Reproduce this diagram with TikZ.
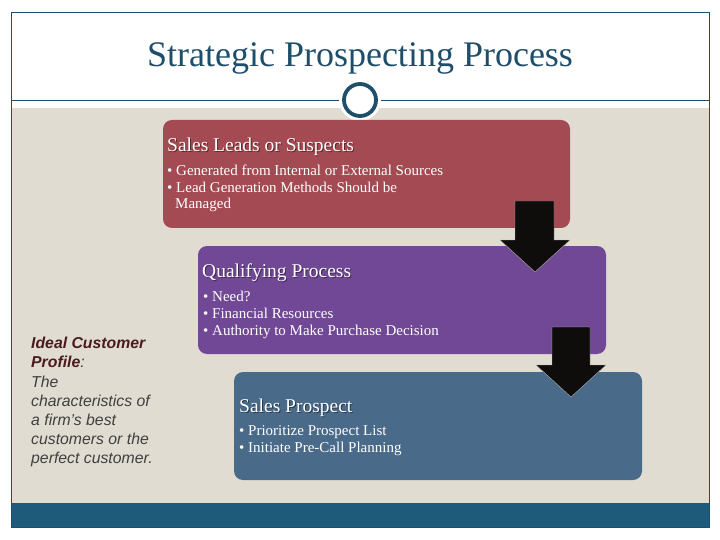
\documentclass[tikz,border=0pt]{standalone}
\usepackage{fontspec}
\setmainfont{Liberation Serif}
\newfontfamily\armain{Liberation Sans}
\definecolor{teal1}{HTML}{1F4E6A}
\definecolor{beige}{HTML}{E1DCD2}
\definecolor{band}{HTML}{1E5A7A}
\definecolor{redbox}{HTML}{A34A52}
\definecolor{purbox}{HTML}{714895}
\definecolor{bluebox}{HTML}{4A6A89}
\definecolor{arrowc}{HTML}{0F0C0C}
\definecolor{maroon1}{HTML}{4A1A1F}
\definecolor{greytext}{HTML}{3F3F3F}
\tikzset{
  box/.style={rounded corners=9pt, draw=none},
  boxtitle/.style={anchor=base west, inner sep=0pt, text=white, font=\fontsize{19.5}{22}\selectfont},
  boxshadow/.style={anchor=base west, inner sep=0pt, text=black, opacity=0.45, font=\fontsize{19.5}{22}\selectfont},
  bullet/.style={anchor=base west, inner sep=0pt, text=white, font=\fontsize{15}{17}\selectfont},
  bigarrow/.style={fill=arrowc, draw=gray!60, line width=0.4pt},
  sidetext/.style={anchor=base west, inner sep=0pt, font=\armain\itshape\fontsize{15.8}{19}\selectfont, text=greytext}
}
\begin{document}
\begin{tikzpicture}[x=1pt,y=-1pt]
\useasboundingbox (0,0) rectangle (720,540);
\fill[white] (0,0) rectangle (720,540);
% frame and background
\fill[beige] (11,108) rectangle (709,527);
\fill[band] (11,503) rectangle (709,527);
\draw[teal1, line width=0.6pt] (11,12) rectangle (709,527);
\draw[teal1, line width=0.8pt] (11,100) -- (709,100);
% title
\node[font=\fontsize{36}{40}\selectfont, text=teal1, inner sep=0pt, anchor=base] (title) at (360,67) {Strategic Prospecting Process};
% circle
\fill[white] (360,100) circle (21);
\draw[teal1, line width=3.8pt, fill=white] (360,100) circle (16);
% boxes
\fill[redbox, box] (163,120) rectangle (570,228);
\fill[purbox, box] (198,246) rectangle (606,354);
\fill[bluebox, box] (234,372) rectangle (642,480);
% box 1 text
\node[boxshadow] at (168,153) {Sales Leads or Suspects};
\node[boxtitle] (t1) at (167,152) {Sales Leads or Suspects};
\node[bullet] (b11) at (167,176) {\textbullet\ Generated from Internal or External Sources};
\node[bullet] (b12) at (167,193) {\textbullet\ Lead Generation Methods Should be};
\node[bullet] (b13) at (175,209) {Managed};
% box 2 text
\node[boxshadow] at (203,278) {Qualifying Process};
\node[boxtitle] (t2) at (202,277) {Qualifying Process};
\node[bullet] (b21) at (203,301) {\textbullet\ Need?};
\node[bullet] (b22) at (203,318) {\textbullet\ Financial Resources};
\node[bullet] (b23) at (203,335) {\textbullet\ Authority to Make Purchase Decision};
% box 3 text
\node[boxshadow] at (240,413) {Sales Prospect};
\node[boxtitle] (t3) at (239,412) {Sales Prospect};
\node[bullet] (b31) at (239,435) {\textbullet\ Prioritize Prospect List};
\node[bullet] (b32) at (239,452) {\textbullet\ Initiate Pre-Call Planning};
% arrows
\draw[bigarrow] (515,201) -- (554,201) -- (554,240) -- (570,240) -- (535,272) -- (500,240) -- (515,240) -- cycle;
\draw[bigarrow] (552,327) -- (590,327) -- (590,365) -- (606,365) -- (571,397) -- (536,365) -- (552,365) -- cycle;
% side text
\node[sidetext, text=maroon1, font=\armain\bfseries\itshape\fontsize{15.8}{19}\selectfont] (s1) at (31,348) {Ideal Customer};
\node[sidetext] (s2) at (31,367) {{\bfseries\color{maroon1}Profile}:};
\node[sidetext] (s3) at (31,387) {The};
\node[sidetext] (s4) at (31,406) {characteristics of};
\node[sidetext] (s5) at (31,425) {a firm’s best};
\node[sidetext] (s6) at (31,444) {customers or the};
\node[sidetext] (s7) at (31,463) {perfect customer.};
\end{tikzpicture}
\end{document}
